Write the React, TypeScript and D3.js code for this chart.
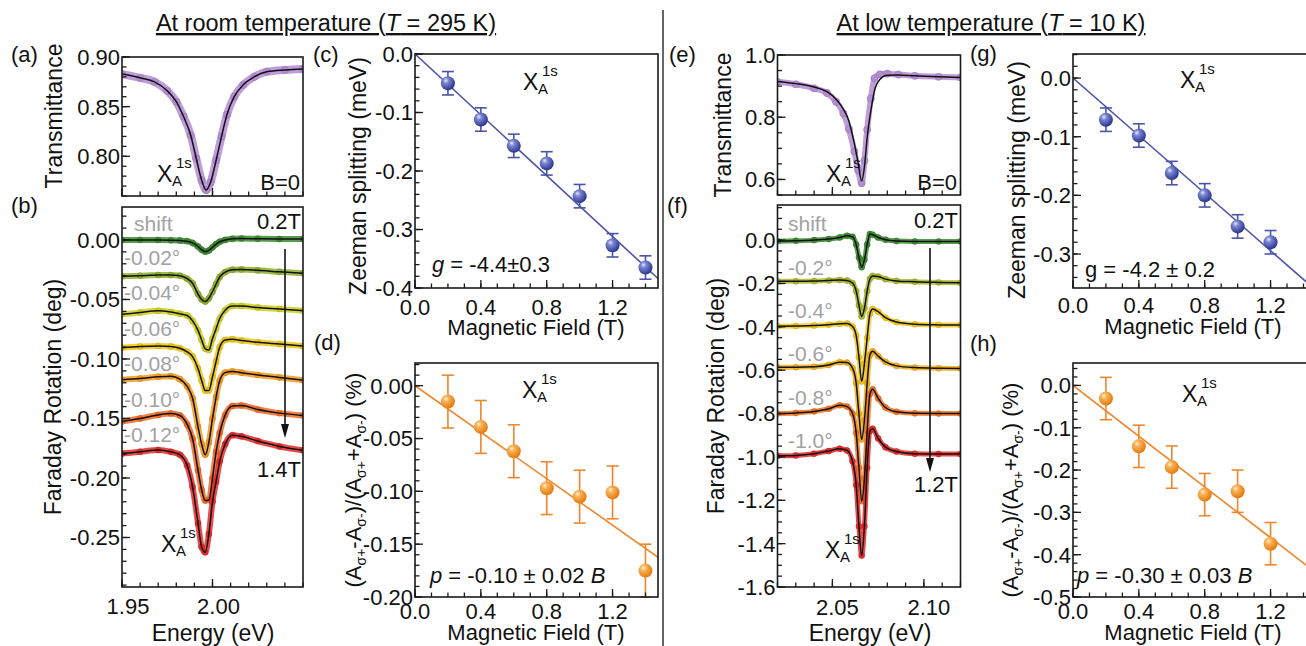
import React from 'react';
import * as d3 from 'd3';

const FONT = '"Liberation Sans", Arial, Helvetica, sans-serif';

// ---------------- data: room temperature ----------------
const energyTrRT = [1.950, 1.960, 1.968, 1.975, 1.980, 1.984, 1.988, 1.991, 1.994, 1.9965, 1.999, 2.002, 2.005, 2.008, 2.012, 2.017, 2.023, 2.030, 2.040, 2.050];
const transRT = [0.8828, 0.879, 0.875, 0.866, 0.855, 0.840, 0.821, 0.798, 0.776, 0.766, 0.774, 0.796, 0.820, 0.842, 0.860, 0.872, 0.880, 0.8852, 0.887, 0.8878];

const energyFrRT = [1.950, 1.960, 1.970, 1.977, 1.982, 1.986, 1.989, 1.992, 1.994, 1.996, 1.998, 2.000, 2.002, 2.004, 2.007, 2.011, 2.016, 2.025, 2.037, 2.050];
const frRT02 = [0.000, 0.000, 0.000, -0.0002, -0.0005, -0.001, -0.0025, -0.0055, -0.0082, -0.0098, -0.0088, -0.0062, -0.0035, -0.0015, 0.0, 0.001, 0.0012, 0.001, 0.0008, 0.0008];
const frRT04 = [-0.0305, -0.030, -0.0295, -0.0295, -0.030, -0.0325, -0.0365, -0.0455, -0.050, -0.0518, -0.049, -0.0435, -0.037, -0.031, -0.027, -0.025, -0.0248, -0.0255, -0.0268, -0.028];
const frRT06 = [-0.0625, -0.061, -0.0595, -0.0605, -0.062, -0.0635, -0.068, -0.076, -0.084, -0.0915, -0.0925, -0.083, -0.0745, -0.066, -0.059, -0.0555, -0.0555, -0.0568, -0.058, -0.0594];
const frRT08 = [-0.0905, -0.0895, -0.089, -0.0895, -0.091, -0.094, -0.098, -0.108, -0.118, -0.1265, -0.1265, -0.115, -0.102, -0.090, -0.084, -0.0835, -0.0845, -0.086, -0.0875, -0.0892];
const frRT10 = [-0.1175, -0.1165, -0.115, -0.1145, -0.117, -0.123, -0.133, -0.157, -0.1715, -0.1805, -0.170, -0.150, -0.132, -0.118, -0.1115, -0.1105, -0.1115, -0.1135, -0.1155, -0.1178];
const frRT12 = [-0.1525, -0.150, -0.147, -0.1458, -0.1475, -0.155, -0.167, -0.1935, -0.210, -0.219, -0.2185, -0.200, -0.178, -0.162, -0.147, -0.1395, -0.139, -0.1425, -0.1455, -0.1475];
const frRT14 = [-0.1795, -0.178, -0.1765, -0.178, -0.1805, -0.1895, -0.2075, -0.238, -0.258, -0.2625, -0.247, -0.220, -0.203, -0.186, -0.1715, -0.164, -0.165, -0.169, -0.1735, -0.1768];
const faradayRT = [frRT02, frRT04, frRT06, frRT08, frRT10, frRT12, frRT14];
const colorsRT = ['#3d8a33', '#8fae2c', '#cfcf22', '#ecc816', '#f39a1f', '#f06a26', '#e42a2a'];
const shiftRT = ['-0.02°', '-0.04°', '-0.06°', '-0.08°', '-0.10°', '-0.12°'];

const fieldRT = [0.2, 0.4, 0.6, 0.8, 1.0, 1.2, 1.4];
const zeemanRT = [-0.050, -0.112, -0.157, -0.187, -0.243, -0.327, -0.365];
const zeemanRTErr = [0.02, 0.02, 0.02, 0.02, 0.02, 0.02, 0.02];
const polRT = [-0.015, -0.039, -0.062, -0.097, -0.105, -0.101, -0.175];
const polRTErr = [0.025, 0.025, 0.025, 0.025, 0.025, 0.025, 0.025];
const fitField = [0, 1.5];
const zeemanRTFit = [0, -0.39];
const polRTFit = [0, -0.165];

// ---------------- data: low temperature ----------------
const energyTrLT = [2.020, 2.030, 2.040, 2.047, 2.052, 2.056, 2.059, 2.062, 2.064, 2.066, 2.0675, 2.069, 2.071, 2.073, 2.076, 2.080, 2.086, 2.095, 2.108, 2.120];
const transLTFit = [0.915, 0.908, 0.897, 0.882, 0.858, 0.826, 0.788, 0.715, 0.655, 0.595, 0.640, 0.735, 0.820, 0.885, 0.922, 0.935, 0.936, 0.933, 0.930, 0.928];
const transLTData = [0.914, 0.906, 0.893, 0.878, 0.850, 0.812, 0.762, 0.690, 0.630, 0.588, 0.660, 0.760, 0.860, 0.925, 0.938, 0.940, 0.937, 0.933, 0.930, 0.928];

const energyFrLT = [2.020, 2.030, 2.040, 2.048, 2.054, 2.058, 2.061, 2.063, 2.0645, 2.066, 2.0675, 2.069, 2.0705, 2.072, 2.075, 2.079, 2.085, 2.095, 2.108, 2.120];
const frLT02 = [-0.005, -0.003, 0.0, 0.005, 0.012, 0.02, 0.015, -0.02, -0.08, -0.125, -0.09, -0.02, 0.028, 0.025, 0.012, 0.002, -0.004, -0.006, -0.006, -0.006];
const frLT04 = [-0.19, -0.19, -0.189, -0.186, -0.184, -0.186, -0.198, -0.235, -0.30, -0.352, -0.315, -0.235, -0.178, -0.165, -0.168, -0.180, -0.188, -0.192, -0.195, -0.197];
const frLT06 = [-0.397, -0.396, -0.394, -0.39, -0.386, -0.385, -0.398, -0.44, -0.54, -0.652, -0.57, -0.45, -0.34, -0.318, -0.33, -0.358, -0.378, -0.388, -0.391, -0.392];
const frLT08 = [-0.586, -0.586, -0.584, -0.576, -0.563, -0.565, -0.59, -0.66, -0.80, -0.92, -0.83, -0.66, -0.53, -0.513, -0.535, -0.562, -0.580, -0.588, -0.591, -0.592];
const frLT10 = [-0.80, -0.797, -0.79, -0.778, -0.762, -0.768, -0.80, -0.89, -1.05, -1.205, -1.10, -0.88, -0.71, -0.688, -0.73, -0.772, -0.792, -0.799, -0.80, -0.80];
const frLT12 = [-0.995, -0.993, -0.985, -0.973, -0.962, -0.97, -1.02, -1.13, -1.32, -1.455, -1.32, -1.05, -0.88, -0.87, -0.915, -0.955, -0.975, -0.985, -0.987, -0.987];
const faradayLT = [frLT02, frLT04, frLT06, frLT08, frLT10, frLT12];
const colorsLT = ['#3d8a33', '#a8b82c', '#f0c81c', '#f0ae1c', '#f07424', '#e42a2a'];
const shiftLT = ['-0.2°', '-0.4°', '-0.6°', '-0.8°', '-1.0°'];

const fieldLT = [0.2, 0.4, 0.6, 0.8, 1.0, 1.2];
const zeemanLT = [-0.071, -0.098, -0.162, -0.200, -0.253, -0.280];
const zeemanLTErr = [0.02, 0.02, 0.02, 0.02, 0.02, 0.02];
const polLT = [-0.031, -0.144, -0.193, -0.258, -0.250, -0.374];
const polLTErr = [0.05, 0.05, 0.05, 0.05, 0.05, 0.05];
const zeemanLTFit = [0, -0.368];
const polLTFit = [0, -0.45];

// ---------------- tick labels ----------------
const tickEnergyRT = [1.95, 2.00];
const tickEnergyLT = [2.05, 2.10];
const tickField = [0.0, 0.4, 0.8, 1.2];
const tickTransRT = [0.80, 0.85, 0.90];
const tickFarRT = [0, -0.05, -0.10, -0.15, -0.20, -0.25];
const tickZeemanRT = [0, -0.1, -0.2, -0.3, -0.4];
const tickPolRT = [0, -0.05, -0.10, -0.15, -0.20];
const tickTransLT = [0.6, 0.8, 1.0];
const tickFarLT = [0, -0.2, -0.4, -0.6, -0.8, -1.0, -1.2, -1.4, -1.6];
const tickZeemanLT = [0, -0.1, -0.2, -0.3];
const tickPolLT = [0, -0.1, -0.2, -0.3, -0.4, -0.5];

type Scale = d3.ScaleLinear<number, number>;

const rng = (a: number, b: number, s: number) => {
  const out: number[] = [];
  const n = Math.round((b - a) / s);
  for (let i = 0; i <= n; i++) out.push(+(a + i * s).toFixed(6));
  return out;
};

function Frame(props: {
  xs: Scale; ys: Scale;
  xMajor: number[]; xMinor: number[]; yMajor: number[]; yMinor: number[];
  xLabels?: number[]; xDigits?: number; xLabelDy?: number; xLabelDx?: number;
  yLabels?: number[]; yDigits?: number;
}) {
  const { xs, ys } = props;
  const [x0, x1] = xs.range();
  const [y0, y1] = ys.range();
  const [xd0, xd1] = xs.domain();
  const [yd0, yd1] = ys.domain();
  const inX = (v: number) => v >= Math.min(xd0, xd1) - 1e-9 && v <= Math.max(xd0, xd1) + 1e-9;
  const inY = (v: number) => v >= Math.min(yd0, yd1) - 1e-9 && v <= Math.max(yd0, yd1) + 1e-9;
  const st = { stroke: '#1a1a1a', strokeWidth: 1.3 };
  return (
    <g>
      {props.xMinor.filter(inX).map((v, i) => (
        <line key={'xm' + i} x1={xs(v)} x2={xs(v)} y1={y0} y2={y0 - 4.5} {...st} />
      ))}
      {props.xMajor.filter(inX).map((v, i) => (
        <line key={'xM' + i} x1={xs(v)} x2={xs(v)} y1={y0} y2={y0 - 8} {...st} />
      ))}
      {props.yMinor.filter(inY).map((v, i) => (
        <line key={'ym' + i} x1={x0} x2={x0 + 4.5} y1={ys(v)} y2={ys(v)} {...st} />
      ))}
      {props.yMajor.filter(inY).map((v, i) => (
        <line key={'yM' + i} x1={x0} x2={x0 + 8} y1={ys(v)} y2={ys(v)} {...st} />
      ))}
      <rect x={x0} y={y1} width={x1 - x0} height={y0 - y1} fill="none" stroke="#1a1a1a" strokeWidth={1.6} />
      {(props.xLabels || []).map((v, i) => (
        <text key={'xl' + i} x={xs(v) + (props.xLabelDx || 0)} y={y0 + (props.xLabelDy || 26)}
          textAnchor="middle" fontSize={22} fill="#111">{v.toFixed(props.xDigits ?? 1)}</text>
      ))}
      {(props.yLabels || []).map((v, i) => (
        <text key={'yl' + i} x={x0 - 2} y={ys(v)} dy="0.36em"
          textAnchor="end" fontSize={22} fill="#111">{v.toFixed(props.yDigits ?? 1)}</text>
      ))}
    </g>
  );
}

function XA({ x, y }: { x: number; y: number }) {
  return (
    <g fill="#111">
      <text x={x} y={y} fontSize={23}>X</text>
      <text x={x + 15} y={y + 4} fontSize={15}>A</text>
      <text x={x + 19} y={y - 14} fontSize={15}>1s</text>
    </g>
  );
}

function Spectrum({ E, V, xs, ys, color, band = 6, r = 3 }:
  { E: number[]; V: number[]; xs: Scale; ys: Scale; color: string; band?: number; r?: number }) {
  const pts = E.map((e, i) => [xs(e), ys(V[i])] as [number, number]);
  const d = d3.line().curve(d3.curveMonotoneX)(pts) || '';
  const dark = (d3.color(color) as d3.RGBColor).darker(0.5).formatHex();
  return (
    <g>
      <path d={d} fill="none" stroke={color} strokeWidth={band} strokeOpacity={0.85} strokeLinejoin="round" strokeLinecap="round" />
      {pts.map(([x, y], i) => (
        <circle key={i} cx={x} cy={y} r={r} fill={color} stroke={dark} strokeWidth={0.8} strokeOpacity={0.7} />
      ))}
    </g>
  );
}

function Fit({ E, V, xs, ys, color = '#111', w = 1.5 }:
  { E: number[]; V: number[]; xs: Scale; ys: Scale; color?: string; w?: number }) {
  const pts = E.map((e, i) => [xs(e), ys(V[i])] as [number, number]);
  const d = d3.line().curve(d3.curveMonotoneX)(pts) || '';
  return <path d={d} fill="none" stroke={color} strokeWidth={w} />;
}

function Spheres({ B, V, err, xs, ys, grad, color }:
  { B: number[]; V: number[]; err: number[]; xs: Scale; ys: Scale; grad: string; color: string }) {
  return (
    <g>
      {B.map((b, i) => {
        const x = xs(b);
        const yt = ys(V[i] + err[i]);
        const yb = Math.min(ys(V[i] - err[i]), ys.range()[0]);
        return (
          <g key={i} stroke={color} strokeWidth={1.6}>
            <line x1={x} x2={x} y1={yt} y2={yb} />
            <line x1={x - 6} x2={x + 6} y1={yt} y2={yt} />
            <line x1={x - 6} x2={x + 6} y1={yb} y2={yb} />
          </g>
        );
      })}
      {B.map((b, i) => (
        <circle key={'s' + i} cx={xs(b)} cy={ys(V[i])} r={7} fill={`url(#${grad})`} />
      ))}
    </g>
  );
}

function Arrow({ x, y1, y2 }: { x: number; y1: number; y2: number }) {
  return (
    <g>
      <line x1={x} x2={x} y1={y1} y2={y2 - 12} stroke="#111" strokeWidth={1.6} />
      <path d={`M${x - 4},${y2 - 14} L${x + 4},${y2 - 14} L${x},${y2} Z`} fill="#111" />
    </g>
  );
}

const SigmaLabel = () => (
  <>
    (A<tspan dy={5} fontSize={14}>σ+</tspan><tspan dy={-5}>-A</tspan><tspan dy={5} fontSize={14}>σ-</tspan><tspan dy={-5}>)/(A</tspan><tspan dy={5} fontSize={14}>σ+</tspan><tspan dy={-5}>+A</tspan><tspan dy={5} fontSize={14}>σ-</tspan><tspan dy={-5}>) (%)</tspan>
  </>
);

export default function App() {
  const xA = d3.scaleLinear().domain([1.95, 2.05]).range([122, 303]);
  const yA = d3.scaleLinear().domain([0.76, 0.90]).range([196, 57]);
  const yB = d3.scaleLinear().domain([-0.2916, 0.0277]).range([587, 207]);
  const xC = d3.scaleLinear().domain([0, 1.476]).range([415, 658]);
  const yC = d3.scaleLinear().domain([-0.4, 0]).range([288, 54]);
  const yD = d3.scaleLinear().domain([-0.2, 0.0215]).range([597, 363]);
  const xE = d3.scaleLinear().domain([2.02, 2.12]).range([777.5, 960.5]);
  const yE = d3.scaleLinear().domain([0.55, 1.0]).range([195, 55]);
  const yF = d3.scaleLinear().domain([-1.6, 0.162]).range([587, 205]);
  const xG = d3.scaleLinear().domain([0, 1.476]).range([1073, 1316]);
  const yG = d3.scaleLinear().domain([-0.358, 0.041]).range([288, 54]);
  const yH = d3.scaleLinear().domain([-0.5, 0.053]).range([597, 363]);

  const clip = (id: string, xs: Scale, ys: Scale) => {
    const [x0, x1] = xs.range();
    const [y0, y1] = ys.range();
    return (
      <clipPath id={id}>
        <rect x={x0} y={y1} width={x1 - x0} height={y0 - y1} />
      </clipPath>
    );
  };

  const gray = '#a2a2a2';

  return (
    <svg width={1306} height={646} style={{ position: 'absolute', left: 0, top: 0, background: '#fff' }}
      fontFamily={FONT}>
      <defs>
        <radialGradient id="gBlue" cx="38%" cy="35%" r="65%" fx="35%" fy="30%">
          <stop offset="0%" stopColor="#e6e8ff" />
          <stop offset="30%" stopColor="#7d88d2" />
          <stop offset="100%" stopColor="#2a3592" />
        </radialGradient>
        <radialGradient id="gOrange" cx="38%" cy="35%" r="65%" fx="35%" fy="30%">
          <stop offset="0%" stopColor="#fff2dc" />
          <stop offset="30%" stopColor="#f8b45a" />
          <stop offset="100%" stopColor="#e57a0c" />
        </radialGradient>
        {clip('cA', xA, yA)}
        {clip('cB', xA, yB)}
        {clip('cC', xC, yC)}
        {clip('cD', xC, yD)}
        {clip('cE', xE, yE)}
        {clip('cF', xE, yF)}
        {clip('cG', xG, yG)}
        {clip('cH', xG, yH)}
      </defs>

      {/* titles */}
      <text x={326} y={31} textAnchor="middle" fontSize={23.5} textDecoration="underline" fill="#111">
        At room temperature (<tspan fontStyle="italic">T</tspan> = 295 K)
      </text>
      <text x={991} y={31} textAnchor="middle" fontSize={23.5} textDecoration="underline" fill="#111">
        At low temperature (<tspan fontStyle="italic">T</tspan> = 10 K)
      </text>
      <line x1={663} x2={663} y1={10} y2={646} stroke="#333" strokeWidth={1.5} />

      {/* panel labels */}
      <g fontSize={22} fill="#111">
        <text x={11} y={62}>(a)</text>
        <text x={11} y={213}>(b)</text>
        <text x={313} y={62}>(c)</text>
        <text x={314} y={350}>(d)</text>
        <text x={669} y={62}>(e)</text>
        <text x={667} y={213}>(f)</text>
        <text x={970} y={61}>(g)</text>
        <text x={970} y={351}>(h)</text>
      </g>

      {/* ---------- (a) ---------- */}
      <g clipPath="url(#cA)">
        <Spectrum E={energyTrRT} V={transRT} xs={xA} ys={yA} color="#b48cd2" band={8} r={3.6} />
        <Fit E={energyTrRT} V={transRT} xs={xA} ys={yA} />
      </g>
      <Frame xs={xA} ys={yA} xMajor={tickEnergyRT} xMinor={rng(1.95, 2.05, 0.01)}
        yMajor={tickTransRT} yMinor={rng(0.76, 0.90, 0.01)} yLabels={tickTransRT} yDigits={2} />
      <XA x={157} y={182} />
      <text x={300} y={190} textAnchor="end" fontSize={22} fill="#111">B=0</text>
      <text transform="translate(62,116) rotate(-90)" textAnchor="middle" fontSize={23} fill="#111">Transmittance</text>

      {/* ---------- (b) ---------- */}
      <g clipPath="url(#cB)">
        {faradayRT.map((v, i) => (
          <Spectrum key={i} E={energyFrRT} V={v} xs={xA} ys={yB} color={colorsRT[i]} />
        ))}
        {faradayRT.map((v, i) => (
          <Fit key={'f' + i} E={energyFrRT} V={v} xs={xA} ys={yB} />
        ))}
      </g>
      <Frame xs={xA} ys={yB} xMajor={tickEnergyRT} xMinor={rng(1.95, 2.05, 0.01)}
        yMajor={tickFarRT} yMinor={rng(-0.29, 0.02, 0.01)} yLabels={tickFarRT} yDigits={2}
        xLabels={tickEnergyRT} xDigits={2} xLabelDy={27} xLabelDx={6} />
      <text x={134} y={231} fontSize={21} fill={gray}>shift</text>
      {shiftRT.map((s, i) => (
        <text key={i} x={124} y={265 + i * 35.4} fontSize={21} fill={gray}>{s}</text>
      ))}
      <text x={301} y={229} textAnchor="end" fontSize={22} fill="#111">0.2T</text>
      <text x={301} y={477} textAnchor="end" fontSize={22} fill="#111">1.4T</text>
      <Arrow x={285} y1={249} y2={438} />
      <XA x={161} y={552} />
      <text transform="translate(61,397) rotate(-90)" textAnchor="middle" fontSize={23} fill="#111">Faraday Rotation (deg)</text>
      <text x={213} y={641} textAnchor="middle" fontSize={23} fill="#111">Energy (eV)</text>

      {/* ---------- (c) ---------- */}
      <g clipPath="url(#cC)">
        <Fit E={fitField} V={zeemanRTFit} xs={xC} ys={yC} color="#4b55a8" w={1.6} />
      </g>
      <Spheres B={fieldRT} V={zeemanRT} err={zeemanRTErr} xs={xC} ys={yC} grad="gBlue" color="#4b55a8" />
      <Frame xs={xC} ys={yC} xMajor={tickField} xMinor={rng(0, 1.4, 0.1)}
        yMajor={tickZeemanRT} yMinor={rng(-0.4, 0, 0.02)} yLabels={tickZeemanRT} yDigits={1}
        xLabels={tickField} xDigits={1} xLabelDy={27} />
      <XA x={523} y={90} />
      <text x={432} y={272} fontSize={22} fill="#111"><tspan fontStyle="italic">g</tspan> = -4.4±0.3</text>
      <text transform="translate(366,176) rotate(-90)" textAnchor="middle" fontSize={23} fill="#111">Zeeman splitting (meV)</text>
      <text x={536} y={335} textAnchor="middle" fontSize={22} fill="#111">Magnetic Field (T)</text>

      {/* ---------- (d) ---------- */}
      <g clipPath="url(#cD)">
        <Fit E={fitField} V={polRTFit} xs={xC} ys={yD} color="#f0862a" w={1.6} />
      </g>
      <Spheres B={fieldRT} V={polRT} err={polRTErr} xs={xC} ys={yD} grad="gOrange" color="#f0862a" />
      <Frame xs={xC} ys={yD} xMajor={tickField} xMinor={rng(0, 1.4, 0.1)}
        yMajor={tickPolRT} yMinor={rng(-0.2, 0.02, 0.01)} yLabels={tickPolRT} yDigits={2}
        xLabels={tickField} xDigits={1} xLabelDy={22} />
      <XA x={522} y={398} />
      <text x={430} y={583} fontSize={22} fill="#111"><tspan fontStyle="italic">p</tspan> = -0.10 ± 0.02 <tspan fontStyle="italic">B</tspan></text>
      <text transform="translate(361,480) rotate(-90)" textAnchor="middle" fontSize={22} fill="#111">
        <SigmaLabel />
      </text>
      <text x={536} y={640} textAnchor="middle" fontSize={22} fill="#111">Magnetic Field (T)</text>

      {/* ---------- (e) ---------- */}
      <g clipPath="url(#cE)">
        <Spectrum E={energyTrLT} V={transLTData} xs={xE} ys={yE} color="#b48cd2" band={6} r={3.6} />
        <Fit E={energyTrLT} V={transLTFit} xs={xE} ys={yE} />
      </g>
      <Frame xs={xE} ys={yE} xMajor={tickEnergyLT} xMinor={rng(2.02, 2.12, 0.01)}
        yMajor={tickTransLT} yMinor={rng(0.55, 1.0, 0.05)} yLabels={tickTransLT} yDigits={1} />
      <XA x={826} y={182} />
      <text x={957} y={190} textAnchor="end" fontSize={22} fill="#111">B=0</text>
      <text transform="translate(731,125) rotate(-90)" textAnchor="middle" fontSize={23} fill="#111">Transmittance</text>

      {/* ---------- (f) ---------- */}
      <g clipPath="url(#cF)">
        {faradayLT.map((v, i) => (
          <Spectrum key={i} E={energyFrLT} V={v} xs={xE} ys={yF} color={colorsLT[i]} band={5} r={3} />
        ))}
        {faradayLT.map((v, i) => (
          <Fit key={'f' + i} E={energyFrLT} V={v} xs={xE} ys={yF} />
        ))}
      </g>
      <Frame xs={xE} ys={yF} xMajor={tickEnergyLT} xMinor={rng(2.02, 2.12, 0.01)}
        yMajor={tickFarLT} yMinor={rng(-1.6, 0.15, 0.05)} yLabels={tickFarLT} yDigits={1}
        xLabels={tickEnergyLT} xDigits={2} xLabelDy={28} xLabelDx={5} />
      <text x={788} y={231} fontSize={21} fill={gray}>shift</text>
      {shiftLT.map((s, i) => (
        <text key={i} x={788} y={275 + i * 43.2} fontSize={21} fill={gray}>{s}</text>
      ))}
      <text x={958} y={228} textAnchor="end" fontSize={22} fill="#111">0.2T</text>
      <text x={958} y={492} textAnchor="end" fontSize={22} fill="#111">1.2T</text>
      <Arrow x={930} y1={248} y2={472} />
      <XA x={825} y={558} />
      <text transform="translate(724,396) rotate(-90)" textAnchor="middle" fontSize={23} fill="#111">Faraday Rotation (deg)</text>
      <text x={870} y={641} textAnchor="middle" fontSize={23} fill="#111">Energy (eV)</text>

      {/* ---------- (g) ---------- */}
      <g clipPath="url(#cG)">
        <Fit E={fitField} V={zeemanLTFit} xs={xG} ys={yG} color="#4b55a8" w={1.6} />
      </g>
      <Spheres B={fieldLT} V={zeemanLT} err={zeemanLTErr} xs={xG} ys={yG} grad="gBlue" color="#4b55a8" />
      <Frame xs={xG} ys={yG} xMajor={tickField} xMinor={rng(0, 1.4, 0.1)}
        yMajor={tickZeemanLT} yMinor={rng(-0.34, 0.04, 0.02)} yLabels={tickZeemanLT} yDigits={1}
        xLabels={tickField} xDigits={1} xLabelDy={25} />
      <XA x={1180} y={88} />
      <text x={1085} y={277} fontSize={22} fill="#111">g = -4.2 ± 0.2</text>
      <text transform="translate(1025,180) rotate(-90)" textAnchor="middle" fontSize={23} fill="#111">Zeeman splitting (meV)</text>
      <text x={1193} y={334} textAnchor="middle" fontSize={22} fill="#111">Magnetic Field (T)</text>

      {/* ---------- (h) ---------- */}
      <g clipPath="url(#cH)">
        <Fit E={fitField} V={polLTFit} xs={xG} ys={yH} color="#f0862a" w={1.6} />
      </g>
      <Spheres B={fieldLT} V={polLT} err={polLTErr} xs={xG} ys={yH} grad="gOrange" color="#f0862a" />
      <Frame xs={xG} ys={yH} xMajor={tickField} xMinor={rng(0, 1.4, 0.1)}
        yMajor={tickPolLT} yMinor={rng(-0.5, 0.04, 0.02)} yLabels={tickPolLT} yDigits={1}
        xLabels={tickField} xDigits={1} xLabelDy={22} />
      <XA x={1182} y={402} />
      <text x={1077} y={583} fontSize={22} fill="#111"><tspan fontStyle="italic">p</tspan> = -0.30 ± 0.03 <tspan fontStyle="italic">B</tspan></text>
      <text transform="translate(1018,490) rotate(-90)" textAnchor="middle" fontSize={22} fill="#111">
        <SigmaLabel />
      </text>
      <text x={1193} y={640} textAnchor="middle" fontSize={22} fill="#111">Magnetic Field (T)</text>
    </svg>
  );
}
